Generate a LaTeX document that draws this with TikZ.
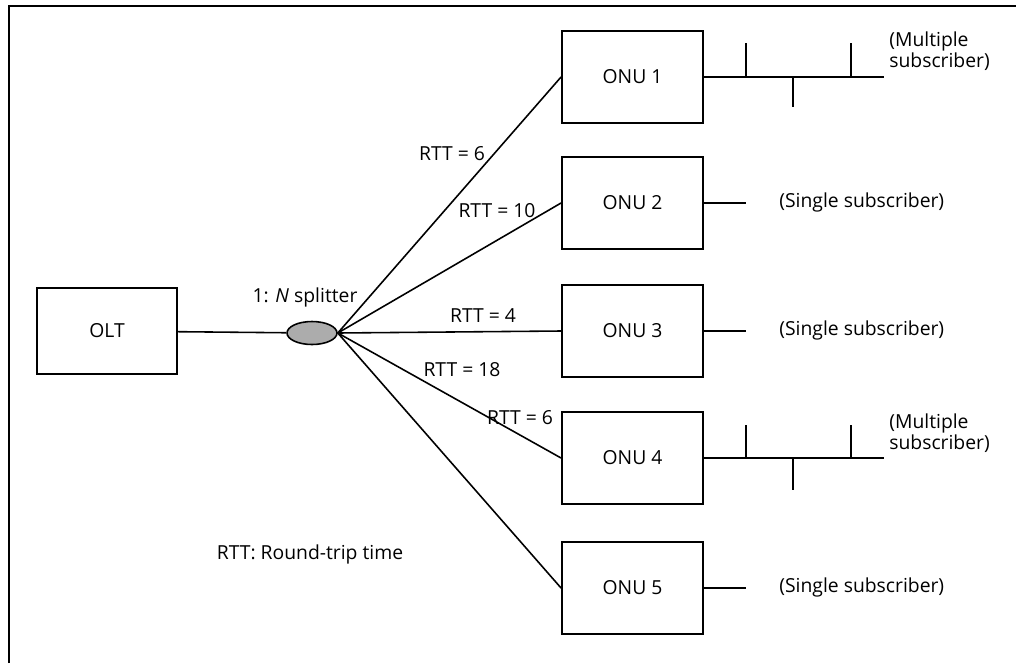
\documentclass[tikz,border=0pt]{standalone}
\usepackage{fontspec}
\setmainfont{Open Sans}
\usetikzlibrary{shapes.geometric}
\begin{document}
\begin{tikzpicture}[x=0.02cm,y=-0.02cm,
  font=\fontsize{11}{12}\selectfont,
  box/.style={draw,line width=1.1pt,minimum width=2.82cm,minimum height=1.84cm,inner sep=0pt},
  fiber/.style={line width=0.9pt},
  bus/.style={line width=1.6pt},
  lbl/.style={inner sep=1pt},
  sub/.style={anchor=west,align=left,inner sep=0pt,font=\fontsize{11}{9}\selectfont}]
\useasboundingbox (0,0) rectangle (1016,663);
% frame
\draw[line width=1.2pt] (9,663) -- (9,6) -- (1016,6);
% nodes
\node[box,minimum width=2.8cm,minimum height=1.72cm] (olt) at (107,331) {OLT};
\node[draw,ellipse,fill=gray!65,line width=0.9pt,minimum width=1cm,minimum height=0.46cm,inner sep=0pt] (spl) at (312,333) {};
\node[box] (onu1) at (632.5,77) {ONU 1};
\node[box] (onu2) at (632.5,203) {ONU 2};
\node[box] (onu3) at (632.5,331) {ONU 3};
\node[box] (onu4) at (632.5,458) {ONU 4};
\node[box] (onu5) at (632.5,588) {ONU 5};
% fibers
\draw[fiber] (olt) -- (spl);
\draw[fiber] (spl.east) -- (onu1.west);
\draw[fiber] (spl.east) -- (onu2.west);
\draw[fiber] (spl.east) -- (onu3.west);
\draw[fiber] (spl.east) -- (onu4.west);
\draw[fiber] (spl.east) -- (onu5.west);
% labels
\node[lbl] (lsp) at (305,297) {1: \textit{N} splitter};
\node[lbl] (l1) at (452,154) {RTT = 6};
\node[lbl] (l2) at (497,211) {RTT = 10};
\node[lbl] (l3) at (483,316) {RTT = 4};
\node[lbl] (l4) at (462,370) {RTT = 18};
\node[lbl] (l5) at (520,418) {RTT = 6};
\node[lbl] (leg) at (310,554) {RTT: Round-trip time};
% ONU 1 bus
\coordinate (e1) at (884,77);
\draw[bus] (onu1.east) -- (e1);
\coordinate (t1a) at (746,77); \coordinate (t1ae) at (746,43);
\coordinate (t1b) at (793,77); \coordinate (t1be) at (793,107);
\coordinate (t1c) at (851,77); \coordinate (t1ce) at (851,43);
\draw[bus] (t1a) -- (t1ae); \draw[bus] (t1b) -- (t1be); \draw[bus] (t1c) -- (t1ce);
\node[sub] (s1) at (889,51) {(Multiple\\subscriber)};
% ONU 2
\coordinate (e2) at (746,203);
\draw[bus] (onu2.east) -- (e2);
\node[sub] (s2) at (779,202) {(Single subscriber)};
% ONU 3
\coordinate (e3) at (746,331);
\draw[bus] (onu3.east) -- (e3);
\node[sub] (s3) at (779,330) {(Single subscriber)};
% ONU 4 bus
\coordinate (e4) at (884,458);
\draw[bus] (onu4.east) -- (e4);
\coordinate (t4a) at (746,458); \coordinate (t4ae) at (746,425);
\coordinate (t4b) at (793,458); \coordinate (t4be) at (793,490);
\coordinate (t4c) at (851,458); \coordinate (t4ce) at (851,425);
\draw[bus] (t4a) -- (t4ae); \draw[bus] (t4b) -- (t4be); \draw[bus] (t4c) -- (t4ce);
\node[sub] (s4) at (889,433) {(Multiple\\subscriber)};
% ONU 5
\coordinate (e5) at (746,588);
\draw[bus] (onu5.east) -- (e5);
\node[sub] (s5) at (779,587) {(Single subscriber)};
\end{tikzpicture}
\end{document}
